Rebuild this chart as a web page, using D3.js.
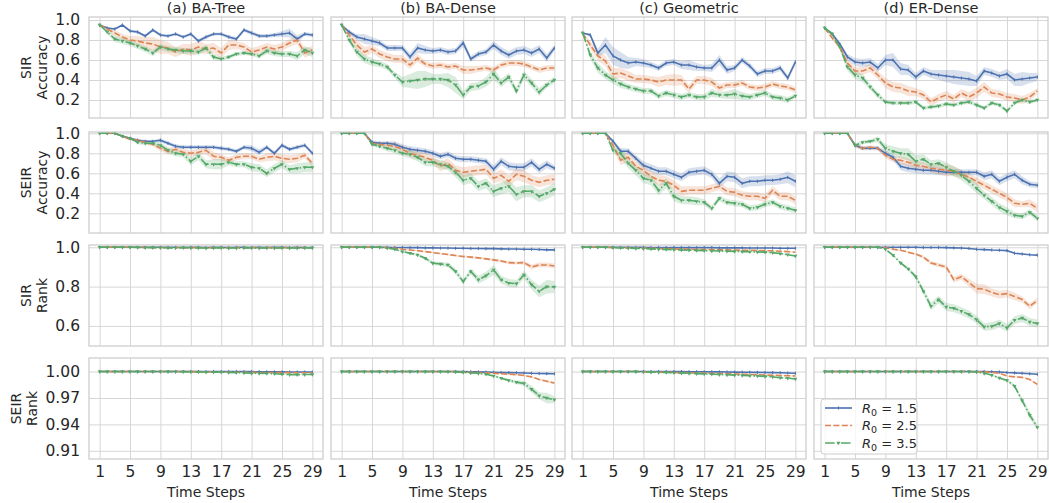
<!DOCTYPE html>
<html lang="en">
<head>
<meta charset="utf-8">
<title>SIR / SEIR accuracy and rank</title>
<script src="https://cdn.jsdelivr.net/npm/d3@7"></script>
<style>
  body { margin: 0; background: #fff; }
  text { font-family: "DejaVu Sans", sans-serif; fill: #262626; }
</style>
</head>
<body>
<script>
// time steps and tick labels
var steps = d3.range(1, 30);
var xTicks = [1, 5, 9, 13, 17, 21, 25, 29];
var colTitles = ["(a) BA-Tree", "(b) BA-Dense", "(c) Geometric", "(d) ER-Dense"];
var rowLabels = [["SIR", "Accuracy"], ["SEIR", "Accuracy"], ["SIR", "Rank"], ["SEIR", "Rank"]];
var rowTicks = [[0.2, 0.4, 0.6, 0.8, 1.0], [0.2, 0.4, 0.6, 0.8, 1.0], [0.6, 0.8, 1.0], [0.91, 0.94, 0.97, 1.00]];
var r0Values = ["1.5", "2.5", "3.5"];

// ---- SIR accuracy: [R0=1.5, R0=2.5, R0=3.5] ----
var sirAccTree = [
  [.95,.92,.91,.95,.89,.88,.84,.90,.85,.84,.86,.83,.86,.79,.83,.86,.86,.83,.81,.90,.87,.84,.84,.85,.86,.87,.81,.86,.85],
  [.95,.91,.87,.83,.80,.79,.77,.76,.73,.72,.68,.71,.70,.73,.71,.72,.67,.75,.75,.73,.68,.70,.73,.71,.73,.77,.80,.67,.70],
  [.95,.88,.81,.79,.77,.74,.71,.67,.73,.71,.70,.69,.69,.68,.72,.63,.61,.63,.66,.67,.66,.64,.69,.67,.66,.66,.64,.70,.67]];
var sirAccDense = [
  [.95,.88,.83,.81,.79,.77,.72,.72,.72,.63,.72,.70,.69,.70,.68,.69,.77,.61,.66,.68,.75,.69,.65,.69,.70,.67,.71,.62,.72],
  [.95,.85,.75,.68,.71,.66,.63,.61,.61,.55,.62,.56,.54,.55,.53,.54,.50,.50,.51,.52,.50,.55,.57,.57,.56,.53,.50,.52,.52],
  [.95,.80,.68,.61,.58,.56,.53,.45,.38,.39,.40,.41,.41,.41,.40,.35,.25,.33,.34,.38,.46,.37,.43,.29,.45,.37,.28,.35,.40]];
var sirAccGeo = [
  [.87,.85,.67,.75,.64,.60,.57,.58,.57,.55,.52,.57,.58,.55,.55,.53,.52,.52,.60,.50,.52,.60,.54,.46,.49,.49,.52,.42,.58],
  [.87,.75,.64,.59,.46,.47,.44,.41,.41,.40,.38,.40,.40,.40,.31,.40,.40,.38,.32,.35,.35,.37,.33,.32,.33,.36,.34,.33,.30],
  [.87,.65,.52,.45,.40,.36,.33,.31,.29,.29,.24,.27,.25,.23,.25,.23,.23,.27,.25,.25,.26,.24,.23,.25,.27,.23,.22,.20,.24]];
var sirAccEr = [
  [.92,.86,.76,.63,.58,.57,.58,.52,.60,.60,.51,.50,.43,.49,.46,.45,.44,.43,.42,.41,.39,.49,.47,.44,.46,.40,.41,.42,.43],
  [.92,.82,.73,.57,.49,.49,.52,.45,.37,.33,.32,.29,.28,.25,.18,.22,.25,.21,.27,.23,.27,.33,.27,.26,.23,.22,.20,.23,.29],
  [.92,.86,.73,.53,.45,.42,.33,.25,.18,.17,.17,.17,.18,.12,.13,.14,.16,.15,.17,.18,.15,.12,.17,.15,.09,.17,.20,.18,.20]];

// ---- SEIR accuracy ----
var seirAccTree = [
  [1,1,1,.97,.95,.93,.92,.92,.93,.90,.87,.86,.86,.86,.86,.86,.85,.84,.82,.86,.85,.81,.86,.80,.88,.84,.86,.88,.80],
  [1,1,1,.97,.94,.93,.91,.89,.85,.82,.84,.81,.80,.81,.83,.77,.76,.73,.76,.77,.77,.74,.76,.77,.75,.74,.75,.78,.70],
  [1,1,1,.97,.95,.91,.90,.90,.88,.83,.80,.79,.72,.77,.69,.69,.69,.71,.69,.69,.66,.65,.60,.65,.69,.64,.65,.66,.66]];
var seirAccDense = [
  [1,1,1,1,.91,.90,.90,.89,.86,.84,.83,.82,.80,.77,.79,.75,.74,.74,.73,.72,.64,.72,.67,.66,.66,.71,.64,.69,.65],
  [1,1,1,1,.90,.89,.88,.87,.84,.80,.78,.76,.73,.67,.70,.63,.61,.62,.63,.64,.55,.58,.52,.59,.57,.53,.51,.53,.54],
  [1,1,1,1,.89,.87,.85,.83,.80,.79,.76,.71,.71,.69,.67,.61,.53,.55,.47,.50,.42,.45,.47,.39,.42,.42,.37,.40,.44]];
var seirAccGeo = [
  [1,1,1,1,.92,.82,.82,.75,.68,.65,.62,.62,.59,.56,.61,.62,.63,.59,.50,.57,.56,.50,.52,.52,.53,.53,.54,.56,.52],
  [1,1,1,1,.88,.73,.76,.67,.63,.57,.53,.52,.48,.42,.43,.43,.43,.45,.47,.42,.41,.38,.37,.37,.35,.43,.37,.37,.33],
  [1,1,1,1,.83,.80,.70,.63,.55,.53,.43,.50,.37,.33,.33,.32,.31,.25,.35,.31,.30,.29,.25,.26,.29,.31,.27,.25,.23]];
var seirAccEr = [
  [1,1,1,1,.88,.85,.85,.85,.80,.76,.67,.65,.64,.63,.63,.62,.61,.61,.61,.61,.61,.57,.59,.52,.56,.59,.53,.49,.48],
  [1,1,1,1,.88,.85,.86,.85,.78,.74,.73,.71,.68,.67,.65,.64,.63,.62,.59,.56,.52,.48,.44,.40,.36,.30,.29,.30,.25],
  [1,1,1,1,.88,.91,.92,.94,.85,.82,.80,.79,.72,.74,.69,.70,.66,.62,.58,.52,.45,.38,.32,.26,.22,.18,.17,.21,.15]];

// ---- SIR rank ----
var sirRankTree = [
  [1,1,1,1,1,1,1,1,1,1,1,.999,1,1,.999,1,1,.999,1,1,.999,1,.999,1,1,.999,1,.999,.999],
  [1,1,1,1,1,1,.999,.999,.999,.998,.999,.998,.998,.999,.998,.998,.999,.998,.998,.998,.998,.999,.998,.998,.998,.998,.999,.998,.998],
  [1,1,1,1,1,.999,.998,.998,.998,.997,.997,.998,.997,.997,.996,.997,.997,.996,.996,.997,.997,.996,.997,.996,.997,.996,.996,.997,.997]];
var sirRankDense = [
  [1,1,1,1,1,1,1,.999,.999,.998,.998,.997,.997,.996,.996,.995,.995,.994,.994,.993,.993,.992,.991,.991,.990,.990,.989,.987,.987],
  [1,1,1,1,1,1,.998,.995,.990,.986,.982,.978,.973,.968,.963,.958,.953,.950,.946,.941,.936,.930,.922,.920,.922,.900,.910,.910,.905],
  [1,1,1,1,1,1,.995,.990,.978,.970,.961,.944,.919,.915,.910,.877,.826,.877,.835,.855,.885,.835,.818,.815,.860,.810,.776,.800,.798]];
var sirRankGeo = [
  [1,1,1,1,1,1,1,1,1,.999,.999,.999,.999,.998,.998,.998,.998,.998,.997,.997,.997,.997,.996,.996,.996,.996,.995,.995,.995],
  [1,1,1,1,.999,.999,.998,.997,.996,.995,.994,.993,.992,.991,.990,.990,.989,.988,.987,.987,.986,.985,.985,.984,.983,.982,.980,.978,.975],
  [1,1,1,1,.998,.997,.995,.994,.993,.992,.990,.989,.988,.986,.985,.984,.983,.982,.981,.980,.979,.978,.977,.976,.975,.972,.968,.962,.956]];
var sirRankEr = [
  [1,1,1,1,1,1,1,1,1,1,1,1,1,.999,.999,.999,.998,.997,.996,.994,.990,.988,.986,.985,.983,.970,.966,.962,.960],
  [1,1,1,1,1,1,1,1,.998,.990,.985,.975,.965,.950,.920,.910,.900,.835,.850,.820,.790,.787,.770,.759,.764,.750,.734,.700,.730],
  [1,1,1,1,1,1,1,1,.990,.960,.920,.890,.850,.776,.700,.734,.696,.690,.675,.658,.632,.595,.598,.612,.590,.629,.640,.620,.612]];

// ---- SEIR rank ----
var seirRankTree = [
  [1,1,1,1,1,1,1,1,1,1,1,1,1,1,1,1,1,1,1,1,.9999,.9998,.9997,.9996,.9996,.9995,.9995,.9995,.9995],
  [1,1,1,1,1,1,1,1,1,1,1,1,.9999,.9998,.9997,.9996,.9995,.9994,.9993,.9992,.9991,.999,.999,.9989,.9988,.9988,.9987,.9987,.9986],
  [1,1,1,1,1,1,1,1,1,1,.9999,.9998,.9996,.9995,.9994,.9993,.9992,.999,.9988,.9985,.998,.998,.9978,.9975,.997,.9965,.9965,.9966,.9967]];
var seirRankDense = [
  [1,1,1,1,1,1,1,1,1,1,1,1,1,1,1,1,1,.9998,.9996,.9994,.9992,.999,.9988,.9986,.9984,.998,.9978,.9976,.9975],
  [1,1,1,1,1,1,1,1,1,1,1,1,1,1,1,1,.9995,.9992,.999,.9985,.998,.9975,.997,.9965,.9955,.994,.991,.989,.987],
  [1,1,1,1,1,1,1,1,1,1,1,1,1,1,.9998,.9995,.999,.9985,.998,.997,.995,.9925,.99,.988,.9865,.98,.9725,.97,.968]];
var seirRankGeo = [
  [1,1,1,1,1,1,1,1,1,1,1,1,.9999,.9999,.9998,.9998,.9997,.9997,.9996,.9995,.9994,.9993,.9992,.9991,.999,.9988,.9986,.9983,.998],
  [1,1,1,1,1,1,1,1,.9998,.9996,.9994,.9992,.999,.9988,.9986,.9985,.9983,.998,.9978,.9975,.9972,.997,.9967,.9965,.996,.9958,.9955,.9953,.995],
  [1,1,1,1,1,1,1,1,.9997,.9994,.9991,.9989,.9986,.9983,.998,.9977,.9973,.997,.9966,.9963,.996,.9957,.9953,.995,.9945,.994,.993,.9925,.9916]];
var seirRankEr = [
  [1,1,1,1,1,1,1,1,1,1,1,1,1,1,1,1,1,1,1,1,1,1,.9998,.9995,.9989,.9985,.998,.9975,.997],
  [1,1,1,1,1,1,1,1,1,1,1,1,1,1,1,1,1,1,1,1,.9998,.9996,.9992,.998,.995,.994,.9934,.991,.9854],
  [1,1,1,1,1,1,1,1,1,1,1,1,1,1,1,1,1,1,1,1,.9995,.998,.996,.9927,.99,.9835,.967,.9506,.9367]];

// ---- spread (half width of shaded band) ----
var sirAccTreeBand = [
  [0,.01,.01,.01,.015,.015,.015,.015,.015,.015,.015,.015,.015,.02,.02,.015,.015,.02,.02,.02,.02,.02,.02,.02,.03,.045,.04,.02,.02],
  [0,.02,.03,.03,.04,.05,.06,.07,.07,.06,.05,.05,.06,.06,.05,.05,.05,.05,.04,.04,.04,.04,.04,.04,.04,.04,.04,.05,.04],
  [0,.02,.03,.03,.03,.03,.03,.03,.03,.03,.03,.03,.03,.03,.03,.03,.02,.02,.02,.02,.02,.02,.03,.03,.03,.03,.04,.04,.04]];
var sirAccDenseBand = [
  [0,.02,.03,.05,.04,.03,.03,.03,.03,.04,.05,.04,.03,.03,.03,.03,.04,.03,.03,.03,.04,.04,.04,.04,.04,.04,.04,.04,.03],
  [0,.03,.05,.05,.04,.04,.04,.04,.04,.04,.04,.03,.03,.03,.03,.03,.04,.04,.03,.03,.03,.03,.03,.03,.03,.03,.03,.03,.03],
  [0,.03,.04,.04,.04,.03,.03,.03,.05,.07,.09,.08,.05,.05,.07,.08,.04,.04,.04,.05,.06,.04,.04,.04,.04,.04,.04,.03,.03]];
var sirAccGeoBand = [
  [0,.02,.04,.08,.09,.08,.06,.04,.04,.03,.03,.03,.03,.04,.05,.04,.03,.04,.05,.04,.03,.03,.03,.03,.03,.03,.03,.03,.03],
  [0,.04,.05,.05,.06,.05,.05,.04,.04,.04,.05,.05,.06,.05,.04,.04,.04,.04,.04,.03,.03,.03,.03,.03,.03,.03,.03,.03,.03],
  [0,.04,.05,.04,.04,.04,.03,.03,.03,.03,.03,.03,.03,.03,.03,.03,.03,.04,.03,.04,.05,.04,.03,.03,.03,.03,.03,.03,.02]];
var sirAccErBand = [
  [0,.02,.02,.03,.04,.04,.04,.04,.05,.07,.06,.05,.04,.04,.04,.05,.06,.07,.07,.07,.05,.04,.04,.04,.05,.06,.07,.05,.04],
  [0,.02,.03,.04,.04,.04,.04,.04,.05,.05,.05,.05,.04,.04,.04,.04,.04,.04,.04,.05,.05,.05,.04,.04,.04,.04,.04,.04,.03],
  [0,.02,.03,.04,.04,.04,.03,.03,.02,.02,.02,.02,.02,.02,.02,.02,.02,.02,.02,.02,.02,.02,.02,.02,.02,.02,.02,.02,.02]];
var seirAccTreeBand = [
  [0,0,0,.01,.01,.01,.01,.01,.02,.02,.02,.02,.02,.02,.02,.02,.02,.02,.02,.02,.03,.03,.02,.02,.02,.02,.02,.02,.02],
  [0,0,0,.01,.01,.02,.02,.02,.03,.03,.03,.03,.03,.03,.04,.04,.03,.03,.03,.03,.03,.03,.04,.04,.04,.04,.04,.03,.03],
  [0,0,0,.01,.01,.02,.02,.02,.03,.03,.03,.03,.04,.04,.04,.05,.05,.03,.03,.03,.04,.04,.04,.04,.04,.04,.05,.05,.05]];
var seirAccDenseBand = [
  [0,0,0,0,.02,.02,.02,.03,.03,.03,.03,.03,.03,.03,.03,.03,.03,.03,.03,.03,.04,.04,.04,.04,.04,.04,.04,.04,.03],
  [0,0,0,0,.02,.02,.03,.04,.04,.04,.04,.04,.04,.05,.05,.05,.05,.05,.05,.05,.05,.06,.06,.06,.06,.05,.05,.05,.05],
  [0,0,0,0,.02,.02,.03,.03,.03,.04,.04,.04,.04,.04,.04,.05,.05,.05,.05,.05,.06,.06,.06,.07,.06,.06,.06,.06,.06]];
var seirAccGeoBand = [
  [0,0,0,0,.02,.03,.03,.03,.04,.04,.04,.04,.04,.04,.04,.04,.04,.04,.05,.05,.05,.05,.05,.05,.05,.05,.05,.06,.06],
  [0,0,0,0,.03,.05,.05,.05,.05,.05,.05,.05,.05,.05,.04,.04,.04,.04,.04,.04,.04,.04,.04,.04,.04,.04,.04,.04,.04],
  [0,0,0,0,.03,.05,.05,.05,.05,.05,.05,.05,.05,.04,.04,.04,.03,.03,.03,.03,.03,.03,.03,.03,.03,.03,.03,.03,.03]];
var seirAccErBand = [
  [0,0,0,0,.02,.02,.02,.02,.03,.03,.04,.04,.04,.04,.04,.04,.03,.03,.03,.03,.03,.04,.04,.04,.04,.04,.04,.03,.03],
  [0,0,0,0,.02,.02,.02,.02,.03,.03,.04,.04,.04,.04,.04,.05,.06,.05,.04,.04,.04,.04,.04,.04,.04,.04,.03,.04,.04],
  [0,0,0,0,.02,.02,.02,.03,.04,.05,.05,.06,.06,.05,.04,.04,.05,.05,.05,.05,.05,.04,.04,.04,.04,.03,.03,.03,.03]];
var sirRankTreeBand = [
  [0,0,0,0,0,0,0,0,0,0,0,0,0,0,0,0,0,0,0,0,0,0,0,0,0,0,0,0,0],
  [0,0,0,0,0,0,.001,.001,.001,.001,.001,.001,.001,.001,.001,.001,.001,.001,.001,.001,.001,.001,.001,.001,.001,.001,.001,.001,.001],
  [0,0,0,0,0,.001,.001,.001,.001,.002,.002,.002,.002,.002,.002,.002,.002,.002,.002,.002,.002,.002,.002,.002,.002,.002,.002,.002,.002]];
var sirRankDenseBand = [
  [0,0,0,0,0,0,0,0,0,0,0,0,0,0,0,0,0,0,0,0,0,0,0,0,0,0,0,.001,.001],
  [0,0,0,0,0,0,.002,.002,.003,.003,.004,.004,.004,.005,.005,.005,.005,.005,.006,.006,.007,.007,.008,.008,.010,.012,.012,.012,.012],
  [0,0,0,0,0,0,.003,.004,.005,.006,.007,.008,.010,.010,.012,.015,.012,.015,.020,.020,.025,.020,.020,.020,.020,.025,.030,.035,.030]];
var sirRankGeoBand = [
  [0,0,0,0,0,0,0,0,0,0,0,0,0,0,0,0,0,0,0,0,0,0,0,0,0,0,0,0,0],
  [0,0,0,0,0,0,.001,.001,.001,.001,.001,.001,.002,.002,.002,.002,.002,.002,.002,.002,.002,.002,.002,.002,.002,.002,.002,.002,.002],
  [0,0,0,0,.001,.001,.001,.002,.002,.002,.002,.002,.002,.002,.002,.002,.002,.002,.003,.003,.003,.003,.003,.003,.003,.003,.003,.003,.003]];
var sirRankErBand = [
  [0,0,0,0,0,0,0,0,0,0,0,0,0,0,0,0,.001,.001,.001,.001,.001,.001,.001,.001,.001,.002,.002,.002,.002],
  [0,0,0,0,0,0,0,0,.002,.003,.004,.005,.006,.008,.010,.010,.010,.015,.015,.020,.025,.025,.020,.020,.020,.020,.015,.015,.015],
  [0,0,0,0,0,0,0,0,.003,.005,.008,.010,.012,.015,.020,.020,.020,.020,.020,.020,.020,.020,.020,.020,.020,.020,.020,.020,.020]];
var seirRankTreeBand = [
  [0,0,0,0,0,0,0,0,0,0,0,0,0,0,0,0,0,0,0,0,0,0,0,0,0,0,0,0,0],
  [0,0,0,0,0,0,0,0,0,0,0,0,0,0,0,.0002,.0002,.0002,.0002,.0002,.0002,.0003,.0003,.0003,.0003,.0003,.0003,.0003,.0003],
  [0,0,0,0,0,0,0,0,0,0,0,.0002,.0002,.0002,.0002,.0002,.0003,.0003,.0003,.0003,.0004,.0004,.0004,.0004,.0005,.0005,.0005,.0005,.0005]];
var seirRankDenseBand = [
  [0,0,0,0,0,0,0,0,0,0,0,0,0,0,0,0,0,0,0,0,0,.0002,.0002,.0002,.0002,.0002,.0002,.0002,.0002],
  [0,0,0,0,0,0,0,0,0,0,0,0,0,0,0,0,.0003,.0003,.0004,.0005,.0005,.0006,.0007,.0008,.0008,.0008,.0009,.001,.001],
  [0,0,0,0,0,0,0,0,0,0,0,0,0,0,0,.0003,.0005,.0007,.0008,.001,.001,.0012,.0015,.002,.003,.004,.004,.006,.004]];
var seirRankGeoBand = [
  [0,0,0,0,0,0,0,0,0,0,0,0,0,0,0,0,0,0,0,0,0,0,0,0,0,0,0,0,0],
  [0,0,0,0,0,0,0,0,.0002,.0002,.0002,.0003,.0003,.0003,.0003,.0003,.0004,.0004,.0004,.0004,.0004,.0004,.0005,.0005,.0005,.0005,.0005,.0005,.0005],
  [0,0,0,0,0,0,0,0,.0002,.0002,.0003,.0003,.0003,.0004,.0004,.0004,.0004,.0005,.0005,.0005,.0005,.0005,.0006,.0006,.0006,.0006,.0006,.0007,.0007]];
var seirRankErBand = [
  [0,0,0,0,0,0,0,0,0,0,0,0,0,0,0,0,0,0,0,0,0,0,0,.0002,.0002,.0002,.0002,.0003,.0003],
  [0,0,0,0,0,0,0,0,0,0,0,0,0,0,0,0,0,0,0,0,.0002,.0003,.0004,.0005,.0006,.0007,.0008,.0008,.0008],
  [0,0,0,0,0,0,0,0,0,0,0,0,0,0,0,0,0,0,0,0,.0005,.0008,.001,.0012,.0015,.002,.003,.004,.003]];

var grid = [
  [sirAccTree, sirAccDense, sirAccGeo, sirAccEr],
  [seirAccTree, seirAccDense, seirAccGeo, seirAccEr],
  [sirRankTree, sirRankDense, sirRankGeo, sirRankEr],
  [seirRankTree, seirRankDense, seirRankGeo, seirRankEr]];
var bands = [
  [sirAccTreeBand, sirAccDenseBand, sirAccGeoBand, sirAccErBand],
  [seirAccTreeBand, seirAccDenseBand, seirAccGeoBand, seirAccErBand],
  [sirRankTreeBand, sirRankDenseBand, sirRankGeoBand, sirRankErBand],
  [seirRankTreeBand, seirRankDenseBand, seirRankGeoBand, seirRankErBand]];

// layout
var W = 1049, H = 503;
var colLeft = [89, 331, 572, 814], pw = 234;
var rowTop = [17, 132, 245, 358], ph = 101;
var yDomains = [[0.02, 1.03], [0.003, 1.013], [0.4977, 1.0116], [0.9007, 1.0154]];
var colors = ["#4c72b0", "#dd8452", "#55a868"];
var dashes = [null, "6,2.4", "9.6,2.4,1.5,2.4"];

var svg = d3.select("body").append("svg")
  .attr("width", W).attr("height", H);

var x = d3.scaleLinear().domain([-0.4, 30.4]).range([0, pw]);

// small markers: tick for R0=1.5, triangle for R0=3.5
function drawMarkers(g, pts, k, color) {
  if (k === 0) {
    g.selectAll(null).data(pts).enter().append("line")
      .attr("x1", function(d) { return d[0]; }).attr("x2", function(d) { return d[0]; })
      .attr("y1", function(d) { return d[1] - 1.6; }).attr("y2", function(d) { return d[1] + 1.6; })
      .attr("stroke", color).attr("stroke-width", 1);
  } else if (k === 2) {
    g.selectAll(null).data(pts).enter().append("path")
      .attr("d", d3.symbol().type(d3.symbolTriangle).size(7))
      .attr("transform", function(d) { return "translate(" + d[0] + "," + d[1] + ") rotate(180)"; })
      .attr("fill", color);
  }
}

for (var r = 0; r < 4; r++) {
  var y = d3.scaleLinear().domain(yDomains[r]).range([ph, 0]);
  for (var c = 0; c < 4; c++) {
    var g = svg.append("g").attr("transform", "translate(" + colLeft[c] + "," + rowTop[r] + ")");

    // grid
    g.append("g").call(d3.axisLeft(y).tickValues(rowTicks[r]).tickSize(-pw).tickFormat(""))
      .call(function(s) { s.select(".domain").remove(); s.selectAll("line").attr("stroke", "#d6d6d6").attr("stroke-width", 1); });
    g.append("g").attr("transform", "translate(0," + ph + ")")
      .call(d3.axisBottom(x).tickValues(xTicks).tickSize(-ph).tickFormat(""))
      .call(function(s) { s.select(".domain").remove(); s.selectAll("line").attr("stroke", "#d6d6d6").attr("stroke-width", 1); });

    var clipId = "clip" + r + c;
    g.append("clipPath").attr("id", clipId).append("rect").attr("width", pw).attr("height", ph);
    var plot = g.append("g").attr("clip-path", "url(#" + clipId + ")");

    var panel = grid[r][c], band = bands[r][c];
    panel.forEach(function(vals, k) {
      var spread = band[k];
      var area = d3.area()
        .x(function(d, i) { return x(steps[i]); })
        .y0(function(d, i) { return y(vals[i] - spread[i]); })
        .y1(function(d, i) { return y(Math.min(vals[i] + spread[i], 1)); });
      plot.append("path").datum(vals).attr("d", area)
        .attr("fill", colors[k]).attr("fill-opacity", 0.22).attr("stroke", "none");
    });
    panel.forEach(function(vals, k) {
      var line = d3.line().x(function(d, i) { return x(steps[i]); }).y(function(d) { return y(d); });
      plot.append("path").datum(vals).attr("d", line)
        .attr("fill", "none").attr("stroke", colors[k]).attr("stroke-width", 1.6)
        .attr("stroke-dasharray", dashes[k]);
      var pts = vals.map(function(v, i) { return [x(steps[i]), y(v)]; });
      drawMarkers(plot, pts, k, colors[k]);
    });

    // spines
    g.append("rect").attr("width", pw).attr("height", ph)
      .attr("fill", "none").attr("stroke", "#cccccc").attr("stroke-width", 1.25);

    if (r === 0) {
      g.append("text").attr("x", pw / 2).attr("y", -4).attr("text-anchor", "middle")
        .style("font-size", "14.5px").text(colTitles[c]);
    }
    if (c === 0) {
      var fmt = r === 3 ? d3.format(".2f") : d3.format(".1f");
      var ya = g.append("g").call(d3.axisLeft(y).tickValues(rowTicks[r]).tickSize(0).tickPadding(9).tickFormat(fmt));
      ya.select(".domain").remove();
      ya.selectAll("text").style("font-size", "15.5px").style("font-family", "DejaVu Sans").attr("fill", "#262626");
      var bb = ya.node().getBBox();
      var lx = bb.x - 8;
      var lab = g.append("text").attr("transform", "translate(" + lx + "," + (ph / 2) + ") rotate(-90)")
        .attr("text-anchor", "middle").style("font-size", "14px");
      lab.append("tspan").attr("x", 0).attr("dy", "-1.2em").text(rowLabels[r][0]);
      lab.append("tspan").attr("x", 0).attr("dy", "1.2em").text(rowLabels[r][1]);
    }
    if (r === 3) {
      var xa = g.append("g").attr("transform", "translate(0," + ph + ")")
        .call(d3.axisBottom(x).tickValues(xTicks).tickSize(0).tickPadding(7));
      xa.select(".domain").remove();
      xa.selectAll("text").style("font-size", "15.5px").style("font-family", "DejaVu Sans").attr("fill", "#262626");
      g.append("text").attr("x", pw / 2).attr("y", ph + 38).attr("text-anchor", "middle")
        .style("font-size", "14px").text("Time Steps");
    }

    // legend in last panel
    if (r === 3 && c === 3) {
      var lg = g.append("g").attr("transform", "translate(7,41)");
      lg.append("rect").attr("width", 96).attr("height", 55).attr("rx", 3)
        .attr("fill", "#fff").attr("fill-opacity", 0.8).attr("stroke", "#cccccc").attr("stroke-width", 1);
      r0Values.forEach(function(v, k) {
        var ly = 9 + k * 17.5;
        lg.append("line").attr("x1", 4).attr("x2", 31).attr("y1", ly).attr("y2", ly)
          .attr("stroke", colors[k]).attr("stroke-width", 1.6).attr("stroke-dasharray", dashes[k]);
        drawMarkers(lg, [[17.5, ly]], k, colors[k]);
        var t = lg.append("text").attr("x", 41).attr("y", ly + 4.5).style("font-size", "13px");
        t.append("tspan").style("font-style", "italic").text("R");
        t.append("tspan").attr("dy", 3).style("font-size", "9.5px").text("0");
        t.append("tspan").attr("dy", -3).text(" = " + v);
      });
    }
  }
}
</script>
</body>
</html>
